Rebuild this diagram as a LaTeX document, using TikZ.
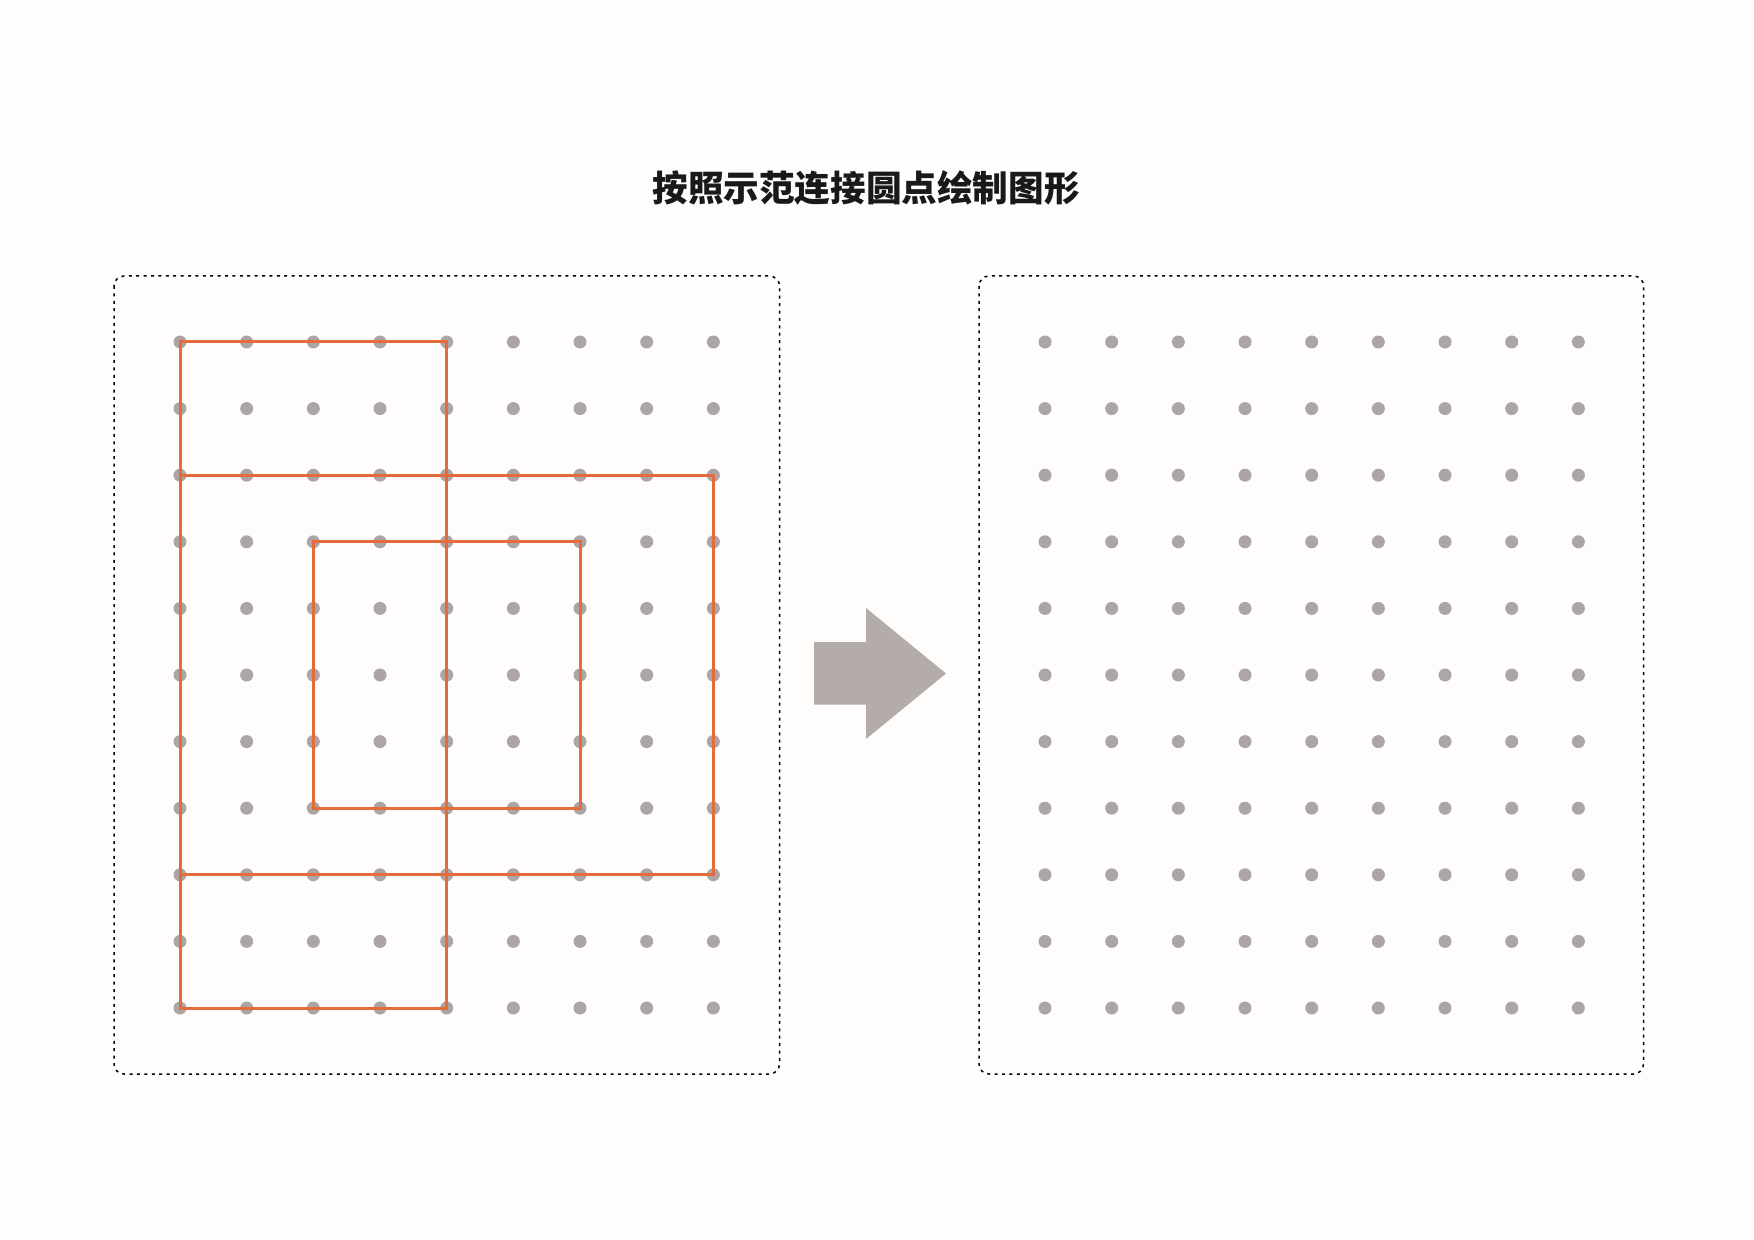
\documentclass[tikz,border=0pt]{standalone}
\usepackage{fontspec}
\newfontfamily\cjk{Noto Sans CJK SC}
\definecolor{bgc}{HTML}{FEFDFB}
\definecolor{dotc}{HTML}{ADA5A5}
\definecolor{linec}{HTML}{E46C3C}
\definecolor{arrowc}{HTML}{B3ACA9}
\tikzset{
  gdot/.style={circle, fill=dotc, inner sep=0pt, minimum size=6.5pt},
  panel/.style={draw=black, line width=0.75pt, dash pattern=on 1.5pt off 2.2pt, rounded corners=5pt},
  shapeline/.style={draw=linec, line width=1.5pt},
  titletext/.style={font=\cjk\bfseries\fontsize{17.8pt}{20pt}\selectfont, text=black!90}
}
\begin{document}
\begin{tikzpicture}[x=0.5pt,y=-0.5pt]
\useasboundingbox[fill=bgc] (0,0) rectangle (1754,1240);
\node[titletext] (title) at (866,188) {按照示范连接圆点绘制图形};
% panels
\draw[panel] (114,276) rectangle (779.5,1074);
\draw[panel] (979,276) rectangle (1643.5,1074);
% dots
\foreach \i in {0,...,8}{
  \foreach \j in {0,...,10}{
    \node[gdot] (L-\i-\j) at ({180+\i*66.67},{342+\j*66.6}) {};
    \node[gdot] (R-\i-\j) at ({1045+\i*66.67},{342+\j*66.6}) {};
  }
}
% demo shape
\draw[shapeline] (L-0-0.center) rectangle (L-4-10.center);
\draw[shapeline] (L-0-2.center) rectangle (L-8-8.center);
\draw[shapeline] (L-2-3.center) rectangle (L-6-7.center);
% arrow
\fill[arrowc] (814,642) -- (866,642) -- (866,608) -- (946,673.5) -- (866,739) -- (866,704.5) -- (814,704.5) -- cycle;
\end{tikzpicture}
\end{document}
